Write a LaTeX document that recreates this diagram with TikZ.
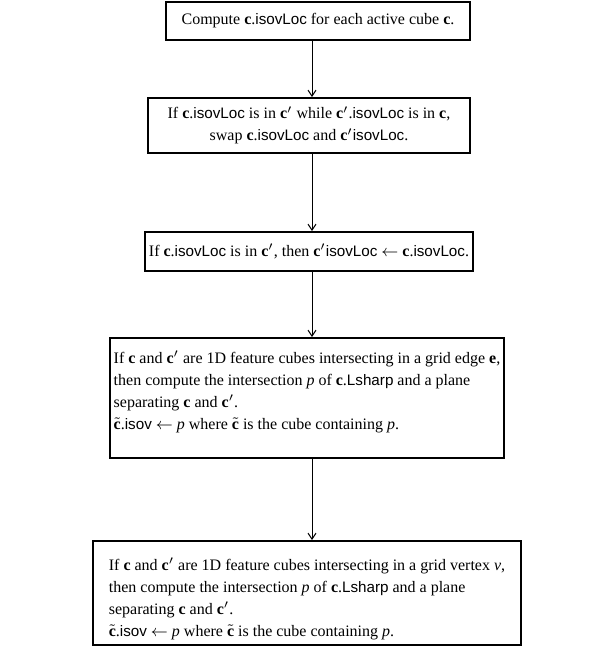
\documentclass[tikz,border=0pt]{standalone}
\usepackage{fontspec}
\setmainfont{Liberation Serif}
\setsansfont{Liberation Sans}
\usepackage{tikz}
\usetikzlibrary{arrows.meta}
\tikzset{
  box/.style={draw,line width=1pt,inner xsep=2pt,inner ysep=2pt,font=\fontsize{8}{11}\selectfont},
  flow/.style={-{Straight Barb[length=3pt,width=4pt]},line width=0.5pt}
}
\newcommand{\cb}{\textbf{c}}
\newcommand{\cp}{\textbf{c}$'$}
\newcommand{\ct}{$\tilde{\textbf{c}}$}
\newcommand{\fld}[1]{{\fontsize{7.6}{11}\sffamily #1}}
% extra room below (#1) or above (#2) a block of lines
\newcommand{\lines}[3]{\raisebox{0pt}[\dimexpr\height+#2\relax][\dimexpr\depth+#1\relax]{\begin{tabular}{@{}l@{}}#3\end{tabular}}}

\begin{document}
\begin{tikzpicture}[x=0.5pt,y=-0.5pt]
\useasboundingbox (0,0) rectangle (615,649);
\node[box,minimum width=152pt,minimum height=19pt] (s1) at (318,21)
  {Compute \cb.\fld{isovLoc} for each active cube \cb.};
\node[box,align=center,minimum width=161pt,minimum height=27.5pt] (s2) at (309,125.5)
  {If \cb.\fld{isovLoc} is in \cp{} while \cp.\fld{isovLoc} is in \cb,\\
   swap \cb.\fld{isovLoc} and \cp\fld{isovLoc}.};
\node[box,minimum width=161pt,minimum height=19.5pt] (s3) at (309,251.5)
  {If \cb.\fld{isovLoc} is in \cp, then \cp\fld{isovLoc} $\leftarrow$ \cb.\fld{isovLoc}.};
\node[box,minimum width=193.5pt,minimum height=60pt] (s4) at (307,398)
  {\lines{6pt}{0pt}{If \cb{} and \cp{} are 1D feature cubes intersecting in a grid edge \textbf{e},\\
   then compute the intersection \textit{p} of \cb.\fld{Lsharp} and a plane\\
   separating \cb{} and \cp.\\
   \ct.\fld{isov} $\leftarrow$ \textit{p} where \ct{} is the cube containing \textit{p}.}};
\node[box,inner ysep=0pt,minimum width=214pt,minimum height=52pt] (s5) at (307,593)
  {\lines{0pt}{6pt}{If \cb{} and \cp{} are 1D feature cubes intersecting in a grid vertex \textit{v},\\
   then compute the intersection \textit{p} of \cb.\fld{Lsharp} and a plane\\
   separating \cb{} and \cp.\\
   \ct.\fld{isov} $\leftarrow$ \textit{p} where \ct{} is the cube containing \textit{p}.}};
\draw[flow] (s1.south -| 312,0) -- (s2.north -| 312,0);
\draw[flow] (s2.south -| 312,0) -- (s3.north -| 312,0);
\draw[flow] (s3.south -| 312,0) -- (s4.north -| 312,0);
\draw[flow] (s4.south -| 312,0) -- (s5.north -| 312,0);
\end{tikzpicture}
\end{document}
